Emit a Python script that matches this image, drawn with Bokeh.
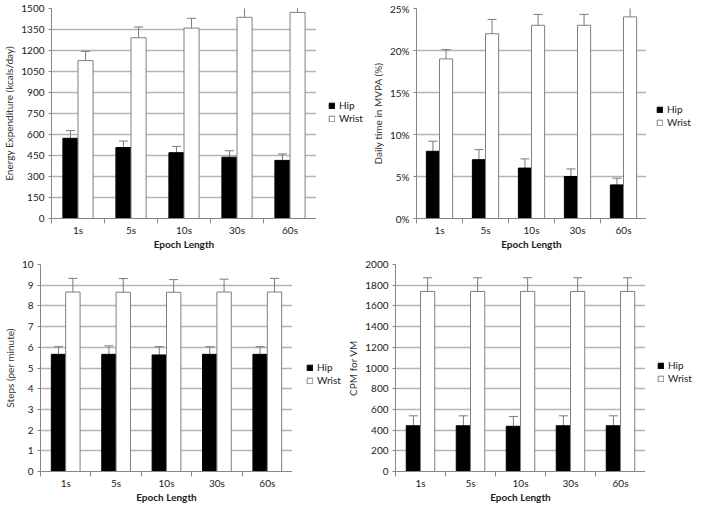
from bokeh.plotting import figure
from bokeh.models import (Range1d, FixedTicker, Whisker, TeeHead, Legend, LegendItem,
                          NumeralTickFormatter, ColumnDataSource)
from bokeh.layouts import column, row
from bokeh.embed import file_html
from bokeh.resources import INLINE

# ---------------- data ----------------
epochs = ["1s", "5s", "10s", "30s", "60s"]
series_names = ["Hip", "Wrist"]

ee_hip = [573, 507, 470, 438, 415]
ee_hip_err = [55, 46, 45, 46, 46]
ee_wrist = [1128, 1291, 1360, 1437, 1472]
ee_wrist_err = [66, 77, 70, 76, 82]

mvpa_hip = [0.080, 0.070, 0.060, 0.050, 0.040]
mvpa_hip_err = [0.012, 0.012, 0.011, 0.009, 0.008]
mvpa_wrist = [0.190, 0.220, 0.230, 0.230, 0.240]
mvpa_wrist_err = [0.011, 0.017, 0.013, 0.013, 0.013]

steps_hip = [5.66, 5.66, 5.63, 5.66, 5.66]
steps_hip_err = [0.37, 0.41, 0.40, 0.37, 0.37]
steps_wrist = [8.67, 8.66, 8.66, 8.67, 8.67]
steps_wrist_err = [0.66, 0.66, 0.61, 0.62, 0.66]

cpm_hip = [442, 442, 437, 442, 442]
cpm_hip_err = [96, 96, 95, 96, 96]
cpm_wrist = [1740, 1740, 1740, 1740, 1740]
cpm_wrist_err = [132, 132, 132, 132, 132]

x_title = "Epoch Length"
FONT = "Lato"
AXIS_COLOR = "#868686"
GRID_COLOR = "#b5b5b5"
ERR_COLOR = "#7a7a7a"
HIP_FILL, HIP_LINE = "black", "black"
WRIST_FILL, WRIST_LINE = "white", "#7f7f7f"
BAR_W = 0.285


def make_panel(hip, hip_err, wrist, wrist_err, y_end, y_step, y_title,
               width, height, borders, pct=False):
    left, right, top, bottom = borders
    n = len(epochs)
    p = figure(width=width, height=height, output_backend="svg", toolbar_location=None,
               x_range=Range1d(0, n), y_range=Range1d(0, y_end),
               min_border_left=left, min_border_right=right,
               min_border_top=top, min_border_bottom=bottom)
    p.outline_line_color = None
    p.background_fill_color = "white"
    p.xgrid.visible = False
    p.ygrid.grid_line_color = GRID_COLOR
    p.ygrid.grid_line_width = 1.3

    x_hip = [i + 0.5 - BAR_W / 2 for i in range(n)]
    x_wrist = [i + 0.5 + BAR_W / 2 for i in range(n)]

    p.vbar(x=x_hip, top=hip, width=BAR_W, fill_color=HIP_FILL,
           line_color=HIP_LINE, line_width=1)
    p.vbar(x=x_wrist, top=wrist, width=BAR_W, fill_color=WRIST_FILL,
           line_color=WRIST_LINE, line_width=1)

    for xs, vals, errs in ((x_hip, hip, hip_err), (x_wrist, wrist, wrist_err)):
        src = ColumnDataSource(dict(base=xs, lower=vals,
                                    upper=[v + e for v, e in zip(vals, errs)]))
        w = Whisker(source=src, base="base", lower="lower", upper="upper",
                    dimension="height", line_color=ERR_COLOR, line_width=1,
                    lower_head=None,
                    upper_head=TeeHead(size=9, line_color=ERR_COLOR, line_width=1))
        p.add_layout(w)

    # x axis: labels at category centres, tick marks at category boundaries
    xa = p.xaxis[0]
    xa.ticker = FixedTicker(ticks=[i + 0.5 for i in range(n)],
                            minor_ticks=list(range(n + 1)))
    xa.major_label_overrides = {i + 0.5: lab for i, lab in enumerate(epochs)}
    xa.major_tick_line_color = None
    xa.major_tick_out = 0
    xa.major_tick_in = 0
    xa.minor_tick_line_color = AXIS_COLOR
    xa.minor_tick_out = 5
    xa.minor_tick_in = 0
    xa.axis_line_color = AXIS_COLOR
    xa.major_label_standoff = 0
    xa.major_label_text_font = FONT
    xa.major_label_text_font_size = "10px"
    xa.major_label_text_color = "#1a1a1a"
    xa.axis_label = x_title
    xa.axis_label_text_font = FONT
    xa.axis_label_text_font_size = "10px"
    xa.axis_label_text_font_style = "bold"
    xa.axis_label_text_color = "#1a1a1a"
    xa.axis_label_standoff = -1

    ya = p.yaxis[0]
    n_ticks = int(round(y_end / y_step))
    ya.ticker = FixedTicker(ticks=[k * y_step for k in range(n_ticks + 1)], minor_ticks=[])
    if pct:
        ya.formatter = NumeralTickFormatter(format="0%")
    ya.axis_line_color = AXIS_COLOR
    ya.major_tick_line_color = AXIS_COLOR
    ya.major_tick_out = 3
    ya.major_tick_in = 0
    ya.minor_tick_line_color = None
    ya.major_label_standoff = 4
    ya.major_label_text_font = FONT
    ya.major_label_text_font_size = "10px"
    ya.major_label_text_color = "#1a1a1a"
    ya.axis_label = y_title
    ya.axis_label_text_font = FONT
    ya.axis_label_text_font_size = "10px"
    ya.axis_label_text_font_style = "normal"
    ya.axis_label_text_color = "#333333"
    ya.axis_label_standoff = 3
    return p


def make_legend(width, height, borders, pos):
    top, bottom = borders
    q = figure(width=width, height=height, output_backend="svg", toolbar_location=None,
               x_range=Range1d(0, 1), y_range=Range1d(0, 1),
               x_axis_location=None, y_axis_location=None,
               min_border_left=0, min_border_right=0,
               min_border_top=top, min_border_bottom=bottom)
    q.outline_line_color = None
    q.xgrid.visible = False
    q.ygrid.visible = False
    # swatch renderers (their single bar lies outside the visible range)
    r_hip = q.vbar(x=[5], top=[1], width=0.1, fill_color=HIP_FILL, line_color=HIP_LINE)
    r_wrist = q.vbar(x=[5], top=[1], width=0.1, fill_color=WRIST_FILL, line_color=WRIST_LINE)
    legend = Legend(items=[LegendItem(label=series_names[0], renderers=[r_hip]),
                           LegendItem(label=series_names[1], renderers=[r_wrist])],
                    location=pos,
                    padding=0, margin=0, spacing=1, glyph_width=7, glyph_height=7,
                    label_standoff=4, label_height=12,
                    label_text_font=FONT, label_text_font_size="10px",
                    label_text_color="#1a1a1a",
                    border_line_color=None, background_fill_alpha=0)
    q.add_layout(legend)
    return q


TOP_B = (8, 34)
BOT_B = (12, 34)
TOP_H = TOP_B[0] + 210 + TOP_B[1]
BOT_H = BOT_B[0] + 207 + BOT_B[1]

p1 = make_panel(ee_hip, ee_hip_err, ee_wrist, ee_wrist_err, 1500, 150,
                "Energy Expenditure (kcals/day)", 316, TOP_H, (46, 0) + TOP_B)
l1 = make_legend(50, TOP_H, TOP_B, (12, 94))
p2 = make_panel(mvpa_hip, mvpa_hip_err, mvpa_wrist, mvpa_wrist_err, 0.25, 0.05,
                "Daily time in MVPA (%)", 280, TOP_H, (50, 0) + TOP_B, pct=True)
l2 = make_legend(46, TOP_H, TOP_B, (10, 90))
p3 = make_panel(steps_hip, steps_hip_err, steps_wrist, steps_wrist_err, 10, 1,
                "Steps (per minute)", 292, BOT_H, (35, 0) + BOT_B)
l3 = make_legend(52, BOT_H, BOT_B, (14, 85))
p4 = make_panel(cpm_hip, cpm_hip_err, cpm_wrist, cpm_wrist_err, 2000, 200,
                "CPM for VM", 301, BOT_H, (49, 0) + BOT_B)
l4 = make_legend(47, BOT_H, BOT_B, (12, 87))

layout = column(row(p1, l1, p2, l2), row(p3, l3, p4, l4))

with open("out.html", "w") as f:
    f.write(file_html(layout, INLINE))
